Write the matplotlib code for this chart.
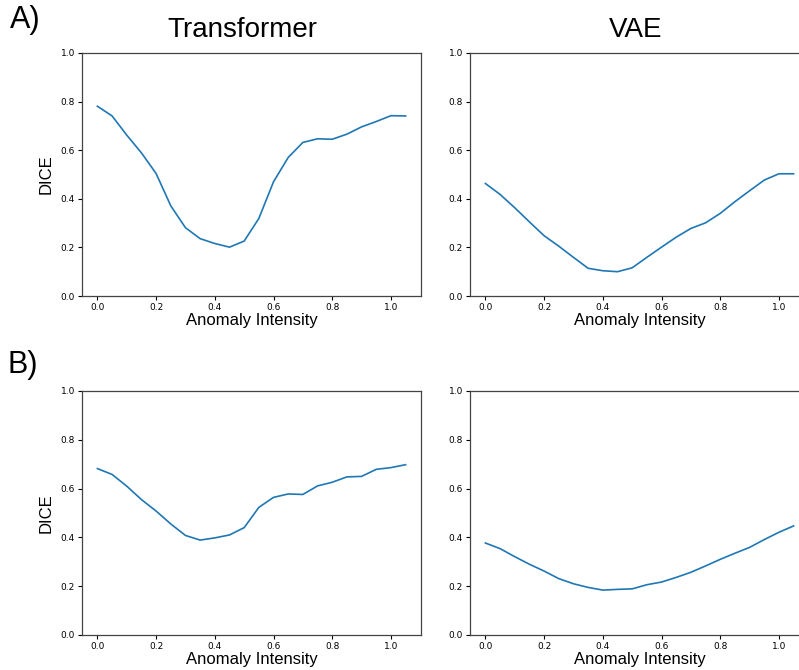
import numpy as np
import matplotlib
matplotlib.use('Agg')
import matplotlib.pyplot as plt

# anomaly intensity steps
intensity = [0.0, 0.05, 0.1, 0.15, 0.2, 0.25, 0.3, 0.35, 0.4, 0.45, 0.5,
             0.55, 0.6, 0.65, 0.7, 0.75, 0.8, 0.85, 0.9, 0.95, 1.0, 1.05]

# row A
dice_a_transformer = [0.781, 0.741, 0.662, 0.589, 0.504, 0.371, 0.281, 0.236, 0.216, 0.201, 0.226,
                      0.319, 0.470, 0.570, 0.632, 0.647, 0.645, 0.666, 0.696, 0.718, 0.742, 0.741]
dice_a_vae = [0.463, 0.418, 0.363, 0.305, 0.248, 0.205, 0.159, 0.114, 0.104, 0.100, 0.116,
              0.159, 0.201, 0.242, 0.278, 0.301, 0.340, 0.388, 0.433, 0.477, 0.503, 0.503]

# row B
dice_b_transformer = [0.682, 0.658, 0.610, 0.555, 0.508, 0.455, 0.408, 0.389, 0.398, 0.410, 0.440,
                      0.523, 0.564, 0.578, 0.576, 0.611, 0.626, 0.648, 0.650, 0.679, 0.686, 0.698]
dice_b_vae = [0.377, 0.354, 0.321, 0.290, 0.262, 0.231, 0.210, 0.195, 0.184, 0.187, 0.189,
              0.206, 0.217, 0.236, 0.257, 0.283, 0.310, 0.335, 0.359, 0.391, 0.421, 0.447]

col_titles = ['Transformer', 'VAE']
row_labels = ['A)', 'B)']

W, H = 799, 670
fig = plt.figure(figsize=(W / 100, H / 100), dpi=100)

def px_axes(x0, y0, x1, y1):
    # pixel box (top-left origin) -> figure fraction
    return fig.add_axes([x0 / W, 1 - y1 / H, (x1 - x0) / W, (y1 - y0) / H])

boxes = {
    (0, 0): (82, 53, 421, 296),
    (0, 1): (470, 53, 809, 296),
    (1, 0): (82, 391, 421, 635),
    (1, 1): (470, 391, 809, 635),
}
series = {
    (0, 0): dice_a_transformer,
    (0, 1): dice_a_vae,
    (1, 0): dice_b_transformer,
    (1, 1): dice_b_vae,
}

label_font = 'Liberation Sans'

for (r, c), box in boxes.items():
    ax = px_axes(*box)
    ax.plot(intensity, series[(r, c)], color='#1f77b4', lw=1.2)
    ax.set_ylim(0, 1.0)
    ax.set_yticks([0.0, 0.2, 0.4, 0.6, 0.8, 1.0])
    ax.set_xticks([0.0, 0.2, 0.4, 0.6, 0.8, 1.0])
    ax.tick_params(labelsize=6.5, length=3, width=0.8, pad=2)
    for s in ax.spines.values():
        s.set_linewidth(0.9)
        s.set_color('#444444')
    ax.set_xlabel('Anomaly Intensity', fontsize=12, family=label_font, labelpad=1)
    if c == 0:
        ax.set_ylabel('DICE', fontsize=12, family=label_font, labelpad=5)

fig.text(242 / W, 1 - 30 / H, col_titles[0], fontsize=20, family=label_font,
         ha='center', va='center')
fig.text(636 / W, 1 - 30 / H, col_titles[1], fontsize=20, family=label_font,
         ha='center', va='center')
fig.text(10 / W, 1 - 20 / H, row_labels[0], fontsize=22, family=label_font,
         ha='left', va='center')
fig.text(8 / W, 1 - 365 / H, row_labels[1], fontsize=22, family=label_font,
         ha='left', va='center')

fig.savefig('out.png', dpi=100)
